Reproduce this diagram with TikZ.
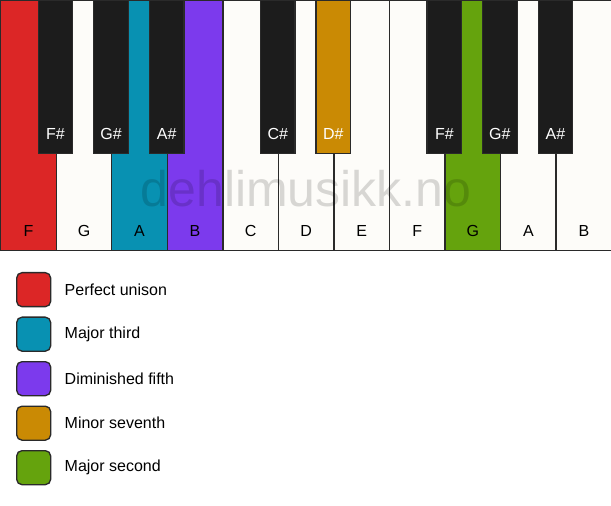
\documentclass[tikz,border=0pt]{standalone}
\usepackage{fontspec}
\setmainfont{Liberation Sans}
\usetikzlibrary{positioning}
\definecolor{unison}{HTML}{DC2626}
\definecolor{third}{HTML}{0891B2}
\definecolor{fifth}{HTML}{7C3AED}
\definecolor{seventh}{HTML}{CA8A04}
\definecolor{second}{HTML}{65A30D}
\definecolor{keywhite}{HTML}{FDFCF9}
\definecolor{keyblack}{HTML}{1C1C1C}
\definecolor{keyline}{HTML}{2A2A2A}

\begin{document}
\begin{tikzpicture}[x=0.75pt,y=-0.75pt,font=\fontsize{12}{14}\selectfont,
	wkey/.style={rectangle,draw=keyline,line width=1pt,inner sep=0pt,minimum width=41.66pt,minimum height=187.5pt,anchor=north west},
	bkey/.style={rectangle,draw=keyline,line width=1pt,inner sep=0pt,minimum width=25.9pt,minimum height=114.75pt,anchor=north},
	swatch/.style={rectangle,draw=keyline,line width=1pt,rounded corners=4pt,inner sep=0pt,minimum size=25.5pt,anchor=north west}]
\useasboundingbox (0,0) rectangle (611,506);
\fill[white] (0,0) rectangle (611,506);
\foreach \i/\n/\c in {0/F/unison,1/G/keywhite,2/A/third,3/B/fifth,4/C/keywhite,5/D/keywhite,6/E/keywhite,7/F/keywhite,8/G/second,9/A/keywhite,10/B/keywhite}
{
	\node[wkey,fill=\c] at (\i*55.545,0) (w\i) {};
	\node at ([yshift=15pt]w\i.south) (wl\i) {\n};
}
\node[text=black,text opacity=0.15,font=\fontsize{37.5}{40}\selectfont] at (306,189) (wm) {dehlimusikk.no};
\foreach \b/\n/\c in {1/F\#/keyblack,2/G\#/keyblack,3/A\#/keyblack,5/C\#/keyblack,6/D\#/seventh,8/F\#/keyblack,9/G\#/keyblack,10/A\#/keyblack}
{
	\node[bkey,fill=\c] at (\b*55.545,0) (b\b) {};
	\node[text=white] at ([yshift=15pt]b\b.south) (bl\b) {\n};
}
\foreach \k/\c/\t in {0/unison/Perfect unison,1/third/Major third,2/fifth/Diminished fifth,3/seventh/Minor seventh,4/second/Major second}
{
	\node[swatch,fill=\c] at (16,272+44.5*\k) (s\k) {};
	\node[right=6.5pt of s\k] (t\k) {\t};
}
\end{tikzpicture}
\end{document}
